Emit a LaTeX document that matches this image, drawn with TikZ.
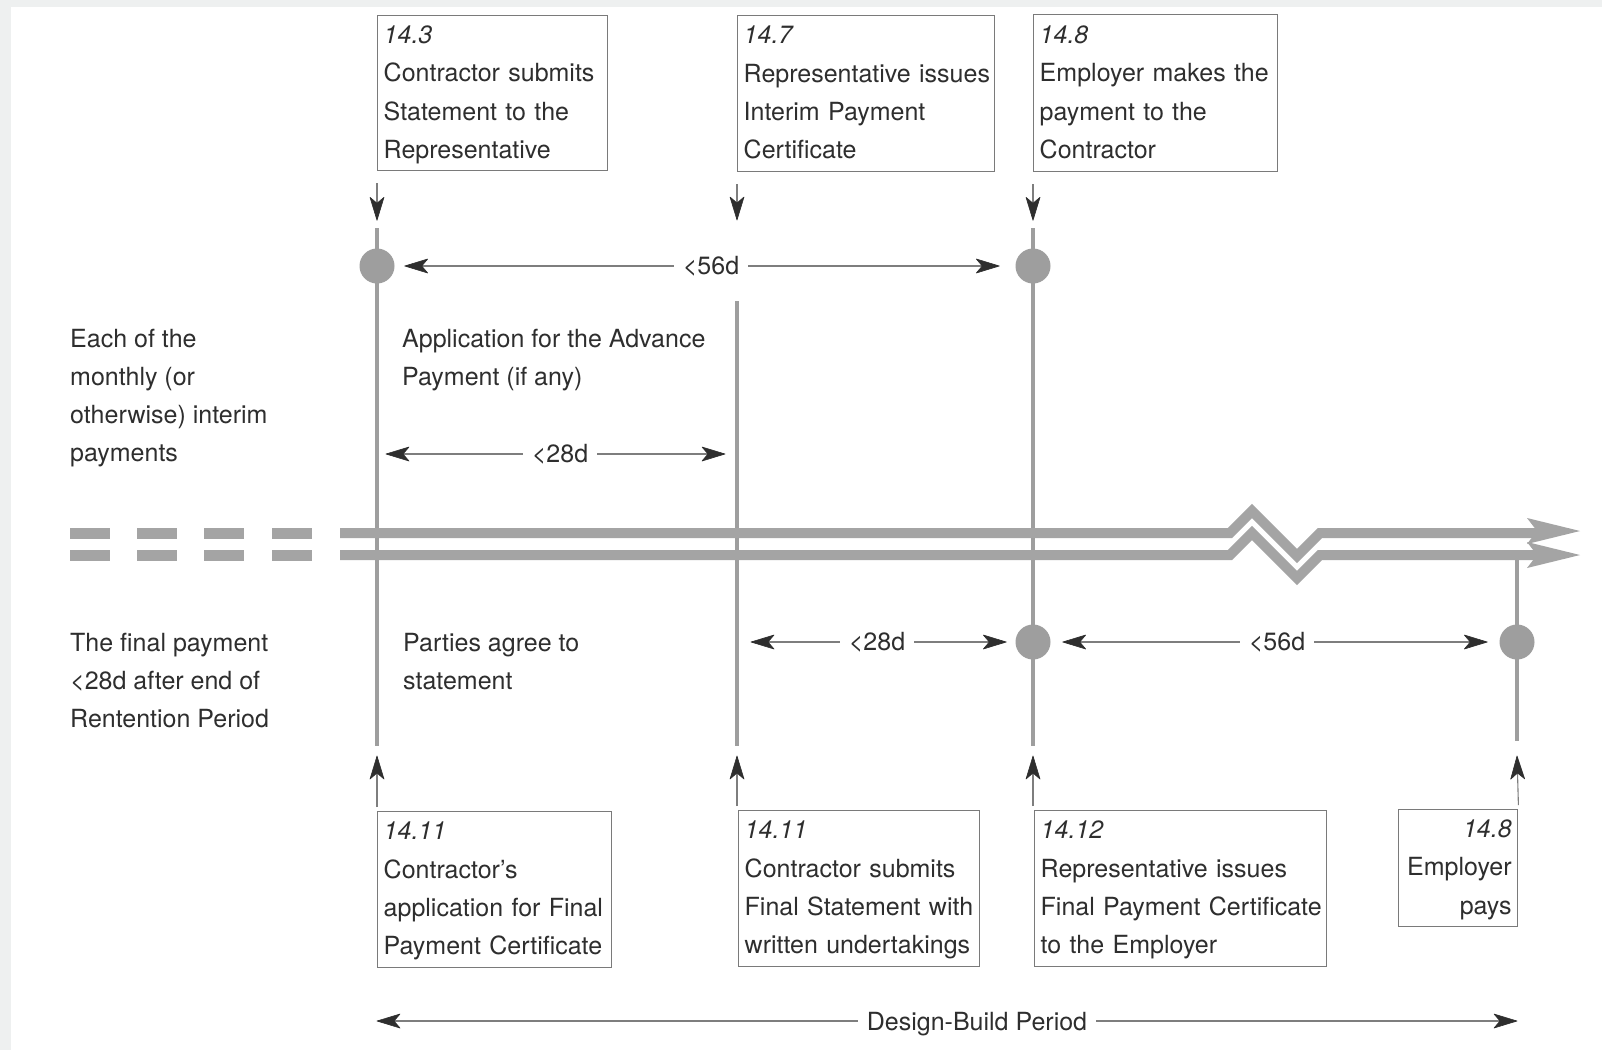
\documentclass[tikz,border=0pt]{standalone}
\usepackage{fontspec}
\setmainfont{TeX Gyre Heros}
\usetikzlibrary{arrows.meta,calc}
\definecolor{ink}{HTML}{2E2E2E}
\definecolor{rail}{HTML}{A4A4A4}
\definecolor{post}{HTML}{9E9E9E}
\definecolor{thin}{HTML}{7E7E7E}
\definecolor{frame}{HTML}{7A7A7A}
\definecolor{page}{HTML}{EEF0F0}
\newcommand\txtlines[1]{\begin{tabular}[t]{@{}l@{}}#1\end{tabular}}
\newcommand\txtlinesr[1]{\begin{tabular}[t]{@{}r@{}}#1\end{tabular}}
\pgfarrowsdeclare{barbtip}{barbtip}
{\pgfarrowsleftextend{-22pt}\pgfarrowsrightextend{1pt}}
{\pgfsetlinewidth{0.6pt}\pgfsetroundjoin
 \pgfpathmoveto{\pgfpoint{1pt}{0pt}}
 \pgfpathlineto{\pgfpoint{-22pt}{7pt}}
 \pgfpathlineto{\pgfpoint{-16pt}{0pt}}
 \pgfpathlineto{\pgfpoint{-22pt}{-7pt}}
 \pgfpathclose
 \pgfsetfillcolor{ink}\pgfsetstrokecolor{ink}\pgfusepathqfillstroke}
\tikzset{
  every node/.style={text=ink, font=\fontsize{25}{38.3}\selectfont},
  box/.style={draw=frame, line width=1.4pt, inner xsep=6pt, inner ysep=0pt,
              anchor=north west, align=left},
  rbox/.style={box, align=right},
  dot/.style={circle, fill=post, minimum size=35pt, inner sep=0pt},
  postline/.style={draw=post, line width=4.5pt},
  railline/.style={draw=rail, line width=10pt, line join=miter},
  dim/.style={draw=thin, line width=1.1pt, barbtip-barbtip},
  drop/.style={draw=thin, line width=1.1pt, -barbtip},
  lbl/.style={fill=white, inner xsep=9pt, inner ysep=2pt},
  note/.style={anchor=base west, inner sep=0pt}
}
\begin{document}
\begin{tikzpicture}[x=1pt,y=-1pt]
\useasboundingbox (0,0) rectangle (1602,1050);
\fill[page] (0,0) rectangle (1602,1050);
\fill[white] (11,7) rectangle (1602,1050);

% vertical event posts
\draw[postline] (377,228) -- (377,746);
\draw[postline] (737,301) -- (737,746);
\draw[postline] (1033,228) -- (1033,746);
\draw[postline] (1517,560) -- (1517,741);

% twin time rails: dashed lead-in, break mark and arrow heads
\foreach \y in {533,555}{
  \foreach \a/\b in {70/110,137/177,204/244,272/312}
    \draw[draw=rail, line width=11pt] (\a,\y) -- (\b,\y);
  \fill[white] (330,\y-5.5) rectangle (345,\y+5.5);
}
\draw[railline] (340,533) -- (1230,533) -- (1252,511) -- (1297,556) -- (1320,533) -- (1537,533);
\draw[railline] (340,555) -- (1230,555) -- (1252,533) -- (1297,578) -- (1320,555) -- (1537,555);
\fill[rail] (1580,531) -- (1527,518) -- (1537,531) -- (1527,544) -- cycle;
\fill[rail] (1580,555) -- (1527,542) -- (1537,555) -- (1527,568) -- cycle;

% event dots
\node[dot] (d1) at (377,266) {};
\node[dot] (d2) at (1033,266) {};
\node[dot] (d3) at (1033,642) {};
\node[dot] (d4) at (1517,642) {};

% clause boxes above the rails
\node[box, text width=218pt, minimum height=155pt] (b1) at (377,15)
  {\txtlines{\textit{14.3}\\Contractor submits\\Statement to the\\Representative}};
\node[box, text width=245pt, minimum height=156pt] (b2) at (737,15)
  {\txtlines{\textit{14.7}\\Representative issues\\Interim Payment\\Certificate}};
\node[box, text width=232pt, minimum height=157pt] (b3) at (1033,14)
  {\txtlines{\textit{14.8}\\Employer makes the\\payment to the\\Contractor}};

% clause boxes below the rails
\node[box, text width=222pt, minimum height=156pt] (b4) at (377,811)
  {\txtlines{\textit{14.11}\\Contractor's\\application for Final\\Payment Certificate}};
\node[box, text width=229pt, minimum height=156pt] (b5) at (738,810)
  {\txtlines{\textit{14.11}\\Contractor submits\\Final Statement with\\written undertakings}};
\node[box, text width=280pt, minimum height=156pt] (b6) at (1034,810)
  {\txtlines{\textit{14.12}\\Representative issues\\Final Payment Certificate\\to the Employer}};
\node[rbox, text width=107pt, minimum height=117pt] (b7) at (1398,809)
  {\txtlinesr{\textit{14.8}\\Employer\\pays}};

% pointers from the boxes to the posts
\coordinate (t2) at (737,220);
\coordinate (u1) at (377,756);
\coordinate (u2) at (737,756);
\coordinate (u3) at (1033,756);
\coordinate (u4) at (1517,756);
\draw[drop] ($(b1.south west)+(0,12)$) -- ($(d1.north)+(0,-28)$);
\draw[drop] ($(b2.south west)+(0,12)$) -- (t2);
\draw[drop] ($(b3.south west)+(0,12)$) -- ($(d2.north)+(0,-28)$);
\draw[drop] ($(b4.north west)+(0,-4)$) -- (u1);
\draw[drop] ($(b5.north west)+(-1,-4)$) -- (u2);
\draw[drop] ($(b6.north west)+(-1,-4)$) -- (u3);
\draw[drop] ($(b7.north east)+(0,-4)$) -- (u4);

% time limits
\coordinate (p1) at (377,454);
\coordinate (p2) at (737,454);
\coordinate (p3) at (737,642);
\draw[dim] ($(d1.east)+(10,0)$) -- ($(d2.west)+(-16,0)$);
\node[lbl] (l1) at (711,266) {<56d};
\draw[dim] ($(p1)+(9,0)$) -- ($(p2)+(-12,0)$);
\node[lbl] (l2) at (560,454) {<28d};
\draw[dim] ($(p3)+(14,0)$) -- ($(d3.west)+(-9,0)$);
\node[lbl] (l3) at (877,642) {<28d};
\draw[dim] ($(d3.east)+(12,0)$) -- ($(d4.west)+(-12,0)$);
\node[lbl] (l4) at (1277,642) {<56d};

% overall period
\coordinate (e1) at (377,1021);
\coordinate (e2) at (1517,1021);
\draw[dim] (e1) -- (e2);
\node[lbl, anchor=base] (l5) at (977,1030) {Design-Build Period};

% side notes
\node[note] (n1) at (70,347) {\txtlines{Each of the\\monthly (or\\otherwise) interim\\payments}};
\node[note] (n2) at (402,347) {\txtlines{Application for the Advance\\Payment (if any)}};
\node[note] (n3) at (70,651) {\txtlines{The final payment\\<28d after end of\\Rentention Period}};
\node[note] (n4) at (403,651) {\txtlines{Parties agree to\\statement}};
\end{tikzpicture}
\end{document}
